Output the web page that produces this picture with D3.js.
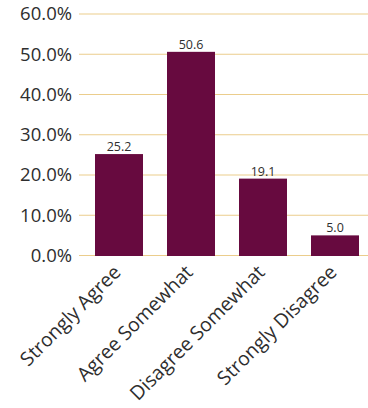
<!DOCTYPE html>
<html>
<head>
<meta charset="utf-8">
<script src="https://cdn.jsdelivr.net/npm/d3@7"></script>
<style>
  html, body { margin: 0; padding: 0; background: #fff; }
  svg { display: block; font-family: "Open Sans", sans-serif; }
</style>
</head>
<body>
<svg id="chart" width="368" height="408"></svg>
<script>
// Survey responses (percent of respondents)
const categories = ["Strongly Agree", "Agree Somewhat", "Disagree Somewhat", "Strongly Disagree"];
const values = [25.2, 50.6, 19.1, 5.0];
const yTicks = [0, 10, 20, 30, 40, 50, 60];

(function () {
  const svg = d3.select("#chart");
  const gridLeft = 79, gridRight = 368;
  const plotTop = 14, plotBottom = 255.5;

  const x = d3.scaleBand()
    .domain(categories)
    .range([83, 371])
    .paddingInner(1 / 3)
    .paddingOuter(1 / 6);

  const y = d3.scaleLinear().domain([0, 60]).range([plotBottom, plotTop]);

  // horizontal gridlines
  svg.append("g")
    .selectAll("line")
    .data(yTicks)
    .join("line")
    .attr("x1", gridLeft)
    .attr("x2", gridRight)
    .attr("y1", d => y(d))
    .attr("y2", d => y(d))
    .attr("stroke", "#ebcd8c")
    .attr("stroke-width", 1.2);

  // y axis labels
  const yAxis = d3.axisLeft(y)
    .tickValues(yTicks)
    .tickFormat(d => d.toFixed(1) + "%")
    .tickSize(0)
    .tickPadding(0);
  const gy = svg.append("g").attr("transform", "translate(72,0)").call(yAxis);
  gy.select(".domain").remove();
  gy.selectAll("text")
    .attr("font-family", "'Open Sans', sans-serif")
    .attr("font-size", 18.5)
    .attr("fill", "#2e2e2e");

  // bars
  svg.append("g")
    .selectAll("rect")
    .data(values)
    .join("rect")
    .attr("x", (d, i) => x(categories[i]))
    .attr("width", x.bandwidth())
    .attr("y", d => y(d))
    .attr("height", d => y(0) - y(d) + 0.5)
    .attr("fill", "#670a3f");

  // value labels
  svg.append("g")
    .selectAll("text")
    .data(values)
    .join("text")
    .attr("x", (d, i) => x(categories[i]) + x.bandwidth() / 2)
    .attr("y", d => y(d) - 3)
    .attr("text-anchor", "middle")
    .attr("font-size", 12.5)
    .attr("fill", "#2e2e2e")
    .text(d => d.toFixed(1));

  // x axis category labels, rotated
  const xAxis = d3.axisBottom(x).tickSize(0).tickPadding(0);
  const gx = svg.append("g").attr("transform", `translate(0,${plotBottom})`).call(xAxis);
  gx.select(".domain").remove();
  gx.selectAll("text")
    .attr("font-family", "'Open Sans', sans-serif")
    .attr("font-size", 19.5)
    .attr("fill", "#2e2e2e")
    .attr("text-anchor", "end")
    .attr("dy", null)
    .attr("transform", "translate(3,18) rotate(-45)");
})();
</script>
</body>
</html>
